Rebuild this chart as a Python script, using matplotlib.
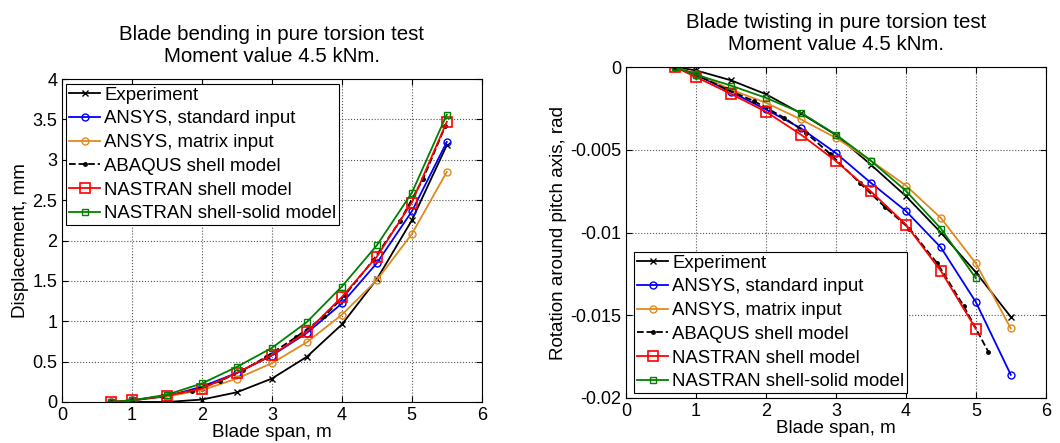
import numpy as np
import matplotlib
matplotlib.use('Agg')
import matplotlib.pyplot as plt

plt.rcParams['font.family'] = ['Liberation Sans', 'DejaVu Sans']

# --- Bending (left) ---
span = [0.7, 1.0, 1.5, 2.0, 2.5, 3.0, 3.5, 4.0, 4.5, 5.0, 5.5]
bend_exp = [0.0, 0.0, 0.0, 0.03, 0.12, 0.29, 0.56, 0.96, 1.52, 2.25, 3.18]
bend_ansys_std = [0.0, 0.02, 0.07, 0.19, 0.36, 0.575, 0.855, 1.22, 1.72, 2.36, 3.22]
bend_ansys_mat = [0.0, 0.02, 0.07, 0.145, 0.29, 0.48, 0.74, 1.08, 1.51, 2.08, 2.85]
bend_nas_shell = [0.0, 0.02, 0.08, 0.165, 0.36, 0.58, 0.87, 1.30, 1.80, 2.47, 3.47]
bend_nas_solid = [0.0, 0.02, 0.09, 0.23, 0.435, 0.67, 0.99, 1.43, 1.94, 2.59, 3.56]
bend_abq_span = [0.7, 1.0, 1.43, 1.86, 2.26, 2.58, 2.92, 3.34, 3.75, 4.05, 4.45, 4.83, 5.16, 5.48]
bend_abaqus = [0.0, 0.02, 0.07, 0.14, 0.26, 0.39, 0.56, 0.80, 1.06, 1.33, 1.76, 2.24, 2.76, 3.42]

# --- Twisting (right) ---
tw_exp = [0.0, -0.0002, -0.0008, -0.00164, -0.0028, -0.0041, -0.0059, -0.0078, -0.0100, -0.0124, -0.0151]
tw_ansys_std = [0.0, -0.00046, -0.0015, -0.00256, -0.0037, -0.0052, -0.0070, -0.0087, -0.0109, -0.0142, -0.0186]
tw_ansys_mat = [0.0, -0.0004, -0.00136, -0.00216, -0.00316, -0.00428, -0.00566, -0.00716, -0.00912, -0.01186, -0.0158]
tw_span_nas = [0.7, 1.0, 1.5, 2.0, 2.5, 3.0, 3.5, 4.0, 4.5, 5.0]
tw_nas_shell = [0.0, -0.0006, -0.00162, -0.0027, -0.00408, -0.00568, -0.00752, -0.00952, -0.01232, -0.01582]
tw_nas_solid = [0.0, -0.00046, -0.00112, -0.00186, -0.00276, -0.00408, -0.00566, -0.00748, -0.00976, -0.01276]
tw_abq_span = [0.7, 1.0, 1.43, 1.83, 2.26, 2.57, 2.92, 3.34, 3.70, 4.05, 4.45, 4.83, 5.18]
tw_abaqus = [0.0, -0.00046, -0.00132, -0.00206, -0.00306, -0.00396, -0.00526, -0.0070, -0.00846, -0.00976, -0.01186, -0.01446, -0.01722]

labels = ['Experiment', 'ANSYS, standard input', 'ANSYS, matrix input',
          'ABAQUS shell model', 'NASTRAN shell model', 'NASTRAN shell-solid model']

ORANGE = '#E08A1E'
GREEN = '#008000'
FS_TICK = 13
FS_LAB = 13.5
FS_LEG = 13.4
FS_TITLE = 14.8
lw = 1.3


def style_axes(ax):
    ax.grid(True, linestyle=':', color='#555555', linewidth=0.8)
    ax.tick_params(direction='in', labelsize=FS_TICK, length=4, top=True, right=True,
                   labeltop=False, labelright=False)
    for s in ax.spines.values():
        s.set_linewidth(0.8)
    ax.set_xlim(0, 6)
    ax.set_xticks(range(0, 7))
    ax.set_xlabel('Blade span, m', fontsize=FS_LAB, labelpad=0)


def draw(ax, x, exp, astd, amat, xab, abq, xn, nshell, nsolid):
    h = []
    h += ax.plot(x, exp, '-x', color='black', lw=lw, ms=5, mew=1)
    h += ax.plot(x, astd, '-o', color='blue', lw=lw, ms=5, mfc='none', mew=1)
    h += ax.plot(x, amat, '-o', color=ORANGE, lw=lw, ms=5, mfc='none', mew=1)
    h += ax.plot(xab, abq, '--.', color='black', lw=lw, ms=5)
    h += ax.plot(xn, nshell, '-s', color='red', lw=lw, ms=7, mfc='none', mew=1.2)
    h += ax.plot(xn, nsolid, '-s', color=GREEN, lw=lw, ms=5, mfc='none', mew=1)
    return h


def add_legend(ax, h, loc, anchor):
    leg = ax.legend(h, labels, loc=loc, bbox_to_anchor=anchor,
                    fontsize=FS_LEG, handlelength=1.7, handletextpad=0.2,
                    labelspacing=0.36, borderpad=0.15, borderaxespad=0,
                    fancybox=False, framealpha=1, edgecolor='black')
    leg.get_frame().set_linewidth(0.8)
    return leg


fig = plt.figure(figsize=(10.6, 4.43), dpi=100)

ax1 = fig.add_axes([0.0585, 0.0926, 0.396, 0.729])
h1 = draw(ax1, span, bend_exp, bend_ansys_std, bend_ansys_mat,
          bend_abq_span, bend_abaqus, span, bend_nas_shell, bend_nas_solid)
style_axes(ax1)
ax1.set_ylim(0, 4)
ax1.set_yticks(np.arange(0, 4.01, 0.5))
ax1.set_yticklabels(['0', '0.5', '1', '1.5', '2', '2.5', '3', '3.5', '4'])
ax1.set_ylabel('Displacement, mm', fontsize=FS_LAB, labelpad=2)
ax1.set_title('Blade bending in pure torsion test\nMoment value 4.5 kNm.',
              fontsize=FS_TITLE, pad=12, linespacing=1.25)
add_legend(ax1, h1, 'upper left', (0.0095, 0.985))

ax2 = fig.add_axes([0.5906, 0.1016, 0.396, 0.747])
h2 = draw(ax2, span, tw_exp, tw_ansys_std, tw_ansys_mat,
          tw_abq_span, tw_abaqus, tw_span_nas, tw_nas_shell, tw_nas_solid)
style_axes(ax2)
ax2.set_ylim(-0.02, 0)
ax2.set_yticks([-0.02, -0.015, -0.01, -0.005, 0])
ax2.set_yticklabels(['-0.02', '-0.015', '-0.01', '-0.005', '0'])
ax2.set_ylabel('Rotation around pitch axis, rad', fontsize=FS_LAB, labelpad=2)
ax2.set_title('Blade twisting in pure torsion test\nMoment value 4.5 kNm.',
              fontsize=FS_TITLE, pad=12, linespacing=1.25)
add_legend(ax2, h2, 'lower left', (0.019, 0.015))

fig.savefig('out.png', dpi=100)
